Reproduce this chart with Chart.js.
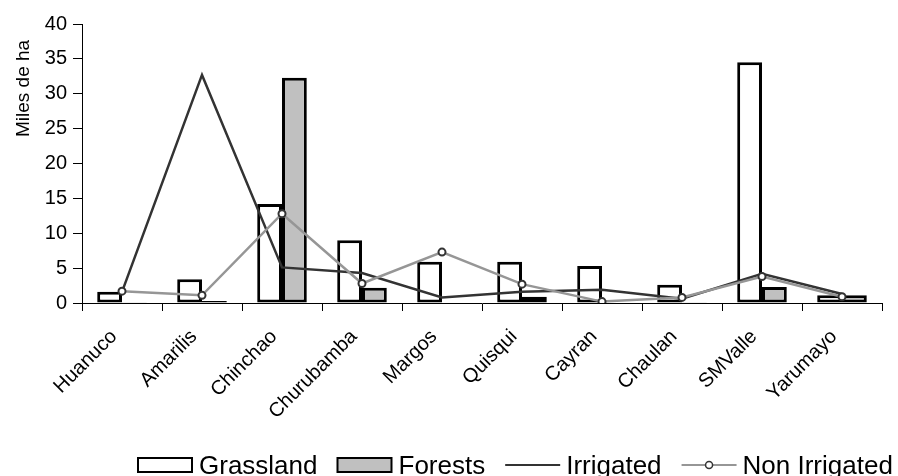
<!DOCTYPE html>
<html>
<head>
<meta charset="utf-8">
<script src="https://cdn.jsdelivr.net/npm/chart.js@4"></script>
<style>
  body { margin: 0; background: #fff; }
  #wrap { width: 898px; height: 476px; }
</style>
</head>
<body>
<div id="wrap"><canvas id="areaChart"></canvas></div>
<script>
// data (thousands of ha)
const districts = ['Huanuco', 'Amarilis', 'Chinchao', 'Churubamba', 'Margos', 'Quisqui', 'Cayran', 'Chaulan', 'SMValle', 'Yarumayo'];
const grassland = [1.6, 3.4, 14.2, 9.0, 5.9, 5.9, 5.3, 2.6, 34.5, 1.1];
const forests = [0.1, 0.3, 32.3, 2.2, 0, 0.9, 0, 0.1, 2.3, 1.1];
const irrigated = [1.6, 32.7, 5.1, 4.3, 0.8, 1.6, 1.9, 0.6, 4.2, 1.3];
const nonIrrigated = [1.7, 1.1, 12.8, 2.8, 7.3, 2.7, 0.2, 0.8, 3.8, 0.9];
const yTicks = [0, 5, 10, 15, 20, 25, 30, 35, 40];

const FONT = '"Liberation Sans", Arial, sans-serif';

// legend drawn by hand so the line/marker samples look like the original
const bottomLegend = {
  id: 'bottomLegend',
  afterDraw(chart) {
    const ctx = chart.ctx;
    const y = 465;
    ctx.save();
    ctx.font = '26px ' + FONT;
    ctx.textBaseline = 'alphabetic';
    ctx.fillStyle = '#000';
    let x = 138;
    const items = [
      { text: 'Grassland', kind: 'box', fill: '#fff' },
      { text: 'Forests', kind: 'box', fill: '#c0c0c0' },
      { text: 'Irrigated', kind: 'line', color: '#333' },
      { text: 'Non Irrigated', kind: 'marker', color: '#969696' }
    ];
    items.forEach(it => {
      if (it.kind === 'box') {
        ctx.fillStyle = it.fill;
        ctx.strokeStyle = '#000';
        ctx.lineWidth = 2;
        ctx.fillRect(x, y - 7, 54, 14);
        ctx.strokeRect(x, y - 7, 54, 14);
      } else {
        ctx.strokeStyle = it.color;
        ctx.lineWidth = 2;
        ctx.beginPath();
        ctx.moveTo(x, y);
        ctx.lineTo(x + 55, y);
        ctx.stroke();
        if (it.kind === 'marker') {
          ctx.beginPath();
          ctx.arc(x + 27.5, y, 3.5, 0, Math.PI * 2);
          ctx.fillStyle = '#fff';
          ctx.fill();
          ctx.strokeStyle = '#333';
          ctx.lineWidth = 1.5;
          ctx.stroke();
        }
      }
      x += 55 + 6;
      ctx.fillStyle = '#000';
      ctx.fillText(it.text, x, y + 9);
      x += ctx.measureText(it.text).width + 20;
    });
    ctx.restore();
  }
};

new Chart('areaChart', {
  type: 'bar',
  data: {
    labels: districts,
    datasets: [
      {
        type: 'line',
        label: 'Non Irrigated',
        data: nonIrrigated,
        borderColor: '#969696',
        borderWidth: 2.5,
        pointRadius: 3.5,
        pointBorderWidth: 2,
        pointBorderColor: '#333',
        pointBackgroundColor: '#fff',
        tension: 0,
        order: 0
      },
      {
        type: 'line',
        label: 'Irrigated',
        data: irrigated,
        borderColor: '#333',
        borderWidth: 2.5,
        pointRadius: 0,
        tension: 0,
        order: 1
      },
      {
        label: 'Grassland',
        data: grassland,
        backgroundColor: '#fff',
        borderColor: '#000',
        borderWidth: 3,
        borderSkipped: false,
        categoryPercentage: 0.62,
        barPercentage: 1.0,
        order: 2
      },
      {
        label: 'Forests',
        data: forests,
        backgroundColor: '#c0c0c0',
        borderColor: '#000',
        borderWidth: 3,
        borderSkipped: false,
        categoryPercentage: 0.62,
        barPercentage: 1.0,
        order: 2
      }
    ]
  },
  options: {
    responsive: true,
    maintainAspectRatio: false,
    animation: false,
    layout: { padding: { left: 0, right: 16, top: 24, bottom: 0 } },
    plugins: {
      legend: { display: false },
      tooltip: { enabled: false }
    },
    scales: {
      x: {
        offset: true,
        grid: { offset: true, drawOnChartArea: false, drawTicks: true, tickLength: 8, color: '#000', lineWidth: 1 },
        border: { color: '#000', width: 1 },
        ticks: {
          autoSkip: false,
          maxRotation: 45,
          minRotation: 45,
          color: '#000',
          padding: 14,
          labelOffset: -8,
          font: { family: FONT, size: 20 }
        },
        afterFit(scale) { scale.height = 173; }
      },
      y: {
        min: 0,
        max: 40,
        afterBuildTicks(scale) { scale.ticks = yTicks.map(v => ({ value: v })); },
        grid: { drawOnChartArea: false, drawTicks: true, tickLength: 9, color: '#000', lineWidth: 1 },
        border: { color: '#000', width: 1 },
        ticks: { color: '#000', padding: 6, font: { family: FONT, size: 20 } },
        title: {
          display: true,
          text: 'Miles de ha   ',
          align: 'end',
          color: '#000',
          padding: { top: 12, bottom: 0 },
          font: { family: FONT, size: 19 }
        },
        afterFit(scale) { scale.width = 82; }
      }
    }
  },
  plugins: [bottomLegend]
});
</script>
</body>
</html>
